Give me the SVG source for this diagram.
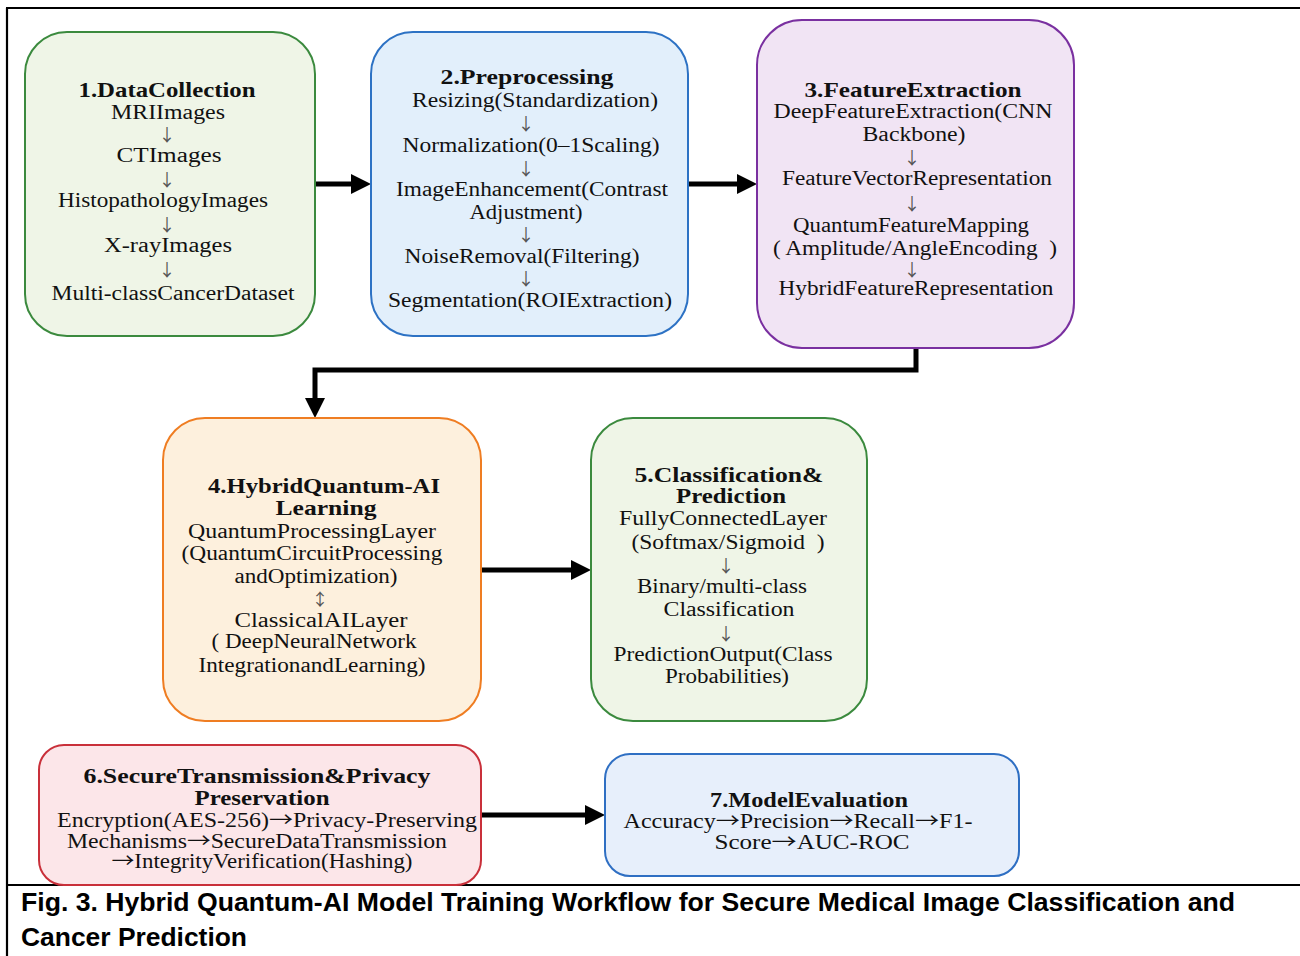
<svg xmlns="http://www.w3.org/2000/svg" width="1300" height="956" viewBox="0 0 1300 956">
<style>
.t{font-family:"Liberation Serif","Times New Roman",serif;font-size:20px;fill:#111;text-anchor:middle;white-space:pre}
.h{font-weight:bold;font-size:21px}
.a{font-family:"Noto Sans CJK JP","Liberation Serif",sans-serif;font-size:17px;fill:#555;text-anchor:middle}
.ar{font-family:"Noto Sans CJK JP","Liberation Serif",sans-serif}
.cap{font-family:"Liberation Sans",Arial,sans-serif;font-weight:bold;font-size:25px;fill:#000}
.box{stroke-width:2}
.frame{stroke:#000;stroke-width:2.2;fill:none}
.conn{stroke:#000;stroke-width:5;fill:none}
</style>
<defs>
<marker id="ah" markerUnits="userSpaceOnUse" markerWidth="20" markerHeight="20" refX="2" refY="10" orient="auto">
<path d="M0,0 L20,10 L0,20 z" fill="#000"/>
</marker>
</defs>
<rect width="1300" height="956" fill="#fff"/>
<g id="frame">
<path class="frame" d="M6,8 H1300 M7,8 V956 M7,885 H1300"/>
</g>
<g id="connectors">
<path class="conn" d="M315,184 H353" marker-end="url(#ah)"/>
<path class="conn" d="M688,184 H739" marker-end="url(#ah)"/>
<path class="conn" d="M916,348 V370 H315 V400" marker-end="url(#ah)"/>
<path class="conn" d="M481,570 H573" marker-end="url(#ah)"/>
<path class="conn" d="M481,815 H587" marker-end="url(#ah)"/>
</g>
<g id="node1">
<rect class="box" x="25" y="32" width="290" height="304" rx="42" fill="#eff5e7" stroke="#3b8a3e"/>
<text class="t h" x="167" y="97" textLength="177" lengthAdjust="spacingAndGlyphs">1.DataCollection</text>
<text class="t" x="168" y="119" textLength="114" lengthAdjust="spacingAndGlyphs">MRIImages</text>
<text class="a" x="167" y="141">↓</text>
<text class="t" x="169" y="162" textLength="105" lengthAdjust="spacingAndGlyphs">CTImages</text>
<text class="a" x="167" y="186">↓</text>
<text class="t" x="163" y="207" textLength="210" lengthAdjust="spacingAndGlyphs">HistopathologyImages</text>
<text class="a" x="167" y="231">↓</text>
<text class="t" x="168" y="252" textLength="128" lengthAdjust="spacingAndGlyphs">X-rayImages</text>
<text class="a" x="167" y="276">↓</text>
<text class="t" x="173" y="300" textLength="243" lengthAdjust="spacingAndGlyphs">Multi-classCancerDataset</text>
</g>
<g id="node2">
<rect class="box" x="371" y="32" width="317" height="304" rx="42" fill="#e2effb" stroke="#2d72c4"/>
<text class="t h" x="527" y="84" textLength="173" lengthAdjust="spacingAndGlyphs">2.Preprocessing</text>
<text class="t" x="535" y="107" textLength="246" lengthAdjust="spacingAndGlyphs">Resizing(Standardization)</text>
<text class="a" x="526" y="130">↓</text>
<text class="t" x="531" y="152" textLength="257" lengthAdjust="spacingAndGlyphs">Normalization(0–1Scaling)</text>
<text class="a" x="526" y="175">↓</text>
<text class="t" x="532" y="196" textLength="272" lengthAdjust="spacingAndGlyphs">ImageEnhancement(Contrast</text>
<text class="t" x="526" y="219" textLength="113" lengthAdjust="spacingAndGlyphs">Adjustment)</text>
<text class="a" x="526" y="241">↓</text>
<text class="t" x="522" y="263" textLength="235" lengthAdjust="spacingAndGlyphs">NoiseRemoval(Filtering)</text>
<text class="a" x="526" y="285">↓</text>
<text class="t" x="530" y="307" textLength="284" lengthAdjust="spacingAndGlyphs">Segmentation(ROIExtraction)</text>
</g>
<g id="node3">
<rect class="box" x="757" y="20" width="317" height="328" rx="45" fill="#f1e4f4" stroke="#7a30a0"/>
<text class="t h" x="913" y="97" textLength="217" lengthAdjust="spacingAndGlyphs">3.FeatureExtraction</text>
<text class="t" x="913" y="118" textLength="279" lengthAdjust="spacingAndGlyphs">DeepFeatureExtraction(CNN</text>
<text class="t" x="914" y="141" textLength="103" lengthAdjust="spacingAndGlyphs">Backbone)</text>
<text class="a" x="912" y="164">↓</text>
<text class="t" x="917" y="185" textLength="270" lengthAdjust="spacingAndGlyphs">FeatureVectorRepresentation</text>
<text class="a" x="912" y="210">↓</text>
<text class="t" x="911" y="232" textLength="236" lengthAdjust="spacingAndGlyphs">QuantumFeatureMapping</text>
<text class="t" x="915" y="255" textLength="284" lengthAdjust="spacingAndGlyphs">( Amplitude/AngleEncoding  )</text>
<text class="a" x="912" y="276">↓</text>
<text class="t" x="916" y="295" textLength="275" lengthAdjust="spacingAndGlyphs">HybridFeatureRepresentation</text>
</g>
<g id="node4">
<rect class="box" x="163" y="418" width="318" height="303" rx="42" fill="#fdf0dd" stroke="#ef7d22"/>
<text class="t h" x="324" y="493" textLength="232" lengthAdjust="spacingAndGlyphs">4.HybridQuantum-AI</text>
<text class="t h" x="326" y="515" textLength="101" lengthAdjust="spacingAndGlyphs">Learning</text>
<text class="t" x="312" y="538" textLength="248" lengthAdjust="spacingAndGlyphs">QuantumProcessingLayer</text>
<text class="t" x="312" y="560" textLength="261" lengthAdjust="spacingAndGlyphs">(QuantumCircuitProcessing</text>
<text class="t" x="316" y="583" textLength="163" lengthAdjust="spacingAndGlyphs">andOptimization)</text>
<text class="a" x="320" y="606">↕</text>
<text class="t" x="321" y="627" textLength="173" lengthAdjust="spacingAndGlyphs">ClassicalAILayer</text>
<text class="t" x="314" y="648" textLength="205" lengthAdjust="spacingAndGlyphs">( DeepNeuralNetwork</text>
<text class="t" x="312" y="672" textLength="227" lengthAdjust="spacingAndGlyphs">IntegrationandLearning)</text>
</g>
<g id="node5">
<rect class="box" x="591" y="418" width="276" height="303" rx="42" fill="#eff5e7" stroke="#3b8a3e"/>
<text class="t h" x="729" y="482" textLength="189" lengthAdjust="spacingAndGlyphs">5.Classification&amp;</text>
<text class="t h" x="731" y="503" textLength="110" lengthAdjust="spacingAndGlyphs">Prediction</text>
<text class="t" x="723" y="525" textLength="208" lengthAdjust="spacingAndGlyphs">FullyConnectedLayer</text>
<text class="t" x="728" y="549" textLength="193" lengthAdjust="spacingAndGlyphs">(Softmax/Sigmoid  )</text>
<text class="a" x="726" y="572">↓</text>
<text class="t" x="722" y="593" textLength="170" lengthAdjust="spacingAndGlyphs">Binary/multi-class</text>
<text class="t" x="729" y="616" textLength="131" lengthAdjust="spacingAndGlyphs">Classification</text>
<text class="a" x="726" y="640">↓</text>
<text class="t" x="723" y="661" textLength="219" lengthAdjust="spacingAndGlyphs">PredictionOutput(Class</text>
<text class="t" x="727" y="683" textLength="124" lengthAdjust="spacingAndGlyphs">Probabilities)</text>
</g>
<g id="node6">
<rect class="box" x="39" y="745" width="442" height="140" rx="25" fill="#fce6e9" stroke="#c9303a"/>
<text class="t h" x="257" y="783" textLength="347" lengthAdjust="spacingAndGlyphs">6.SecureTransmission&amp;Privacy</text>
<text class="t h" x="262" y="805" textLength="135" lengthAdjust="spacingAndGlyphs">Preservation</text>
<text class="t" x="267" y="827" textLength="420" lengthAdjust="spacingAndGlyphs">Encryption(AES-256)<tspan class="ar">→</tspan>Privacy-Preserving</text>
<text class="t" x="257" y="848" textLength="380" lengthAdjust="spacingAndGlyphs">Mechanisms<tspan class="ar">→</tspan>SecureDataTransmission</text>
<text class="t" x="262" y="868" textLength="301" lengthAdjust="spacingAndGlyphs"><tspan class="ar">→</tspan>IntegrityVerification(Hashing)</text>
</g>
<g id="node7">
<rect class="box" x="605" y="754" width="414" height="122" rx="25" fill="#e7effb" stroke="#2f6fc3"/>
<text class="t h" x="809" y="807" textLength="198" lengthAdjust="spacingAndGlyphs">7.ModelEvaluation</text>
<text class="t" x="798" y="828" textLength="349" lengthAdjust="spacingAndGlyphs">Accuracy<tspan class="ar">→</tspan>Precision<tspan class="ar">→</tspan>Recall<tspan class="ar">→</tspan>F1-</text>
<text class="t" x="812" y="849" textLength="195" lengthAdjust="spacingAndGlyphs">Score<tspan class="ar">→</tspan>AUC-ROC</text>
</g>
<g id="caption">
<text class="cap" x="21" y="911" textLength="1214" lengthAdjust="spacingAndGlyphs">Fig. 3. Hybrid Quantum-AI Model Training Workflow for Secure Medical Image Classification and</text>
<text class="cap" x="21" y="946" textLength="226" lengthAdjust="spacingAndGlyphs">Cancer Prediction</text>
</g>
</svg>
